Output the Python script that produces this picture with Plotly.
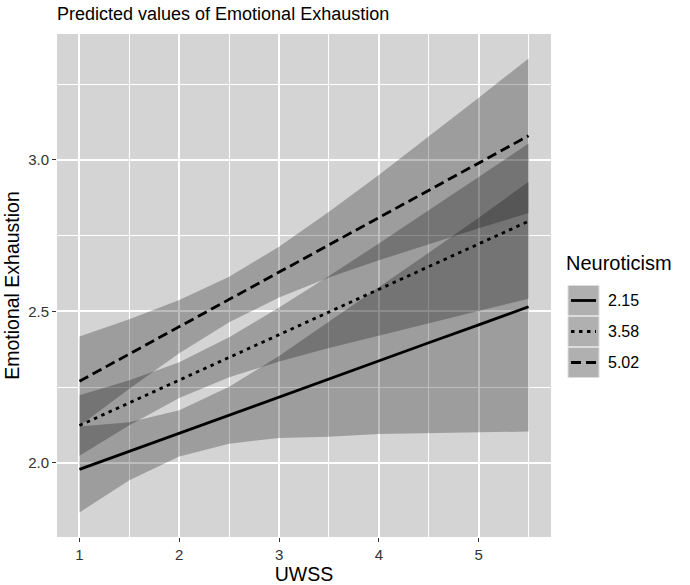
import plotly.graph_objects as go

# ---- data ----
uwss = [1.0, 1.5, 2.0, 2.5, 3.0, 3.5, 4.0, 4.5, 5.0, 5.5]
groups = ["2.15", "3.58", "5.02"]

pred_215 = [1.978, 2.038, 2.097, 2.157, 2.217, 2.276, 2.336, 2.396, 2.455, 2.515]
low_215 = [1.836, 1.942, 2.021, 2.063, 2.082, 2.086, 2.095, 2.099, 2.101, 2.103]
up_215 = [2.120, 2.134, 2.173, 2.251, 2.352, 2.466, 2.577, 2.693, 2.809, 2.927]

pred_358 = [2.123, 2.198, 2.273, 2.348, 2.423, 2.497, 2.572, 2.647, 2.722, 2.797]
low_358 = [2.023, 2.124, 2.214, 2.282, 2.334, 2.379, 2.421, 2.461, 2.501, 2.541]
up_358 = [2.223, 2.272, 2.332, 2.414, 2.512, 2.616, 2.724, 2.833, 2.943, 3.054]

pred_502 = [2.269, 2.359, 2.449, 2.539, 2.629, 2.719, 2.809, 2.899, 2.989, 3.079]
low_502 = [2.121, 2.244, 2.361, 2.464, 2.545, 2.611, 2.668, 2.722, 2.774, 2.824]
up_502 = [2.417, 2.474, 2.537, 2.614, 2.713, 2.828, 2.950, 3.076, 3.205, 3.334]

y_ticks = [2.0, 2.5, 3.0]
x_ticks = [1, 2, 3, 4, 5]

series = [
    (groups[0], pred_215, low_215, up_215, "solid"),
    (groups[1], pred_358, low_358, up_358, "3.5px,4.5px"),
    (groups[2], pred_502, low_502, up_502, "10px,5px"),
]

FONT = "Liberation Sans, Arial, Helvetica, sans-serif"
BAND = "rgba(0,0,0,0.26)"

fig = go.Figure()

for name, pred, lo, up, dash in series:
    fig.add_trace(go.Scatter(
        x=uwss + uwss[::-1], y=up + lo[::-1],
        fill="toself", fillcolor=BAND, mode="lines",
        line=dict(width=0), hoverinfo="skip", showlegend=False))

for name, pred, lo, up, dash in series:
    fig.add_trace(go.Scatter(
        x=uwss, y=pred, mode="lines", name=name,
        line=dict(color="black", width=2.8, dash=dash),
        showlegend=False))

# plot area in pixels
W, H = 690, 585
L, R, T, B = 57, 139, 34, 48
pw, ph = W - L - R, H - T - B


def px(xpix):
    return (xpix - L) / pw


def py(ypix):
    return (H - B - ypix) / ph


shapes = []
annotations = []

# manual legend
annotations.append(dict(
    x=px(564), y=py(263), xref="paper", yref="paper", text="Neuroticism",
    showarrow=False, xanchor="left", yanchor="middle",
    font=dict(family=FONT, size=20, color="black")))

key_top = 285
key_h = 31
for i, (name, pred, lo, up, dash) in enumerate(series):
    y0 = key_top + i * key_h
    shapes.append(dict(
        type="rect", xref="paper", yref="paper",
        x0=px(568), x1=px(599), y0=py(y0 + 0.5), y1=py(y0 + key_h - 0.5),
        fillcolor="#b0b0b0", line=dict(color="#dcdcdc", width=1), layer="above"))
    shapes.append(dict(
        type="line", xref="paper", yref="paper",
        x0=px(571), x1=px(596), y0=py(y0 + key_h / 2), y1=py(y0 + key_h / 2),
        line=dict(color="black", width=2.8, dash=dash), layer="above"))
    annotations.append(dict(
        x=px(606), y=py(y0 + key_h / 2), xref="paper", yref="paper", text=name,
        showarrow=False, xanchor="left", yanchor="middle",
        font=dict(family=FONT, size=16, color="black")))

fig.update_layout(
    width=W, height=H,
    margin=dict(l=L, r=R, t=T, b=B, autoexpand=False),
    paper_bgcolor="white",
    plot_bgcolor="#d4d4d4",
    font=dict(family=FONT, color="black"),
    title=dict(text="Predicted values of Emotional Exhaustion",
               x=px(57), xref="paper", xanchor="left",
               y=1 - 14 / H, yref="container", yanchor="middle",
               font=dict(family=FONT, size=18, color="black")),
    showlegend=False,
    shapes=shapes,
    annotations=annotations,
)

fig.update_xaxes(
    range=[0.775, 5.725], tickvals=x_ticks, ticktext=[str(v) for v in x_ticks],
    showgrid=True, gridcolor="white", gridwidth=1.6, zeroline=False,
    ticks="outside", ticklen=4, tickwidth=1.4, tickcolor="#333333",
    tickfont=dict(family=FONT, size=15, color="#333333"),
    minor=dict(dtick=0.5, tick0=0.5, showgrid=True, gridcolor="white", gridwidth=0.7, ticks=""),
    title=dict(text="UWSS", font=dict(family=FONT, size=19.5, color="black"), standoff=2),
    showline=False,
)
fig.update_yaxes(
    range=[1.755, 3.415], tickvals=y_ticks, ticktext=["%.1f" % v for v in y_ticks],
    showgrid=True, gridcolor="white", gridwidth=1.6, zeroline=False,
    ticks="outside", ticklen=4, tickwidth=1.4, tickcolor="#333333",
    tickfont=dict(family=FONT, size=15, color="#333333"),
    minor=dict(dtick=0.25, tick0=0.25, showgrid=True, gridcolor="white", gridwidth=0.7, ticks=""),
    title=dict(text="Emotional Exhaustion", font=dict(family=FONT, size=19.5, color="black"), standoff=3),
    showline=False,
)

fig.write_html("out.html", config={"displayModeBar": False},
               post_script="document.body.style.margin='0px';")
